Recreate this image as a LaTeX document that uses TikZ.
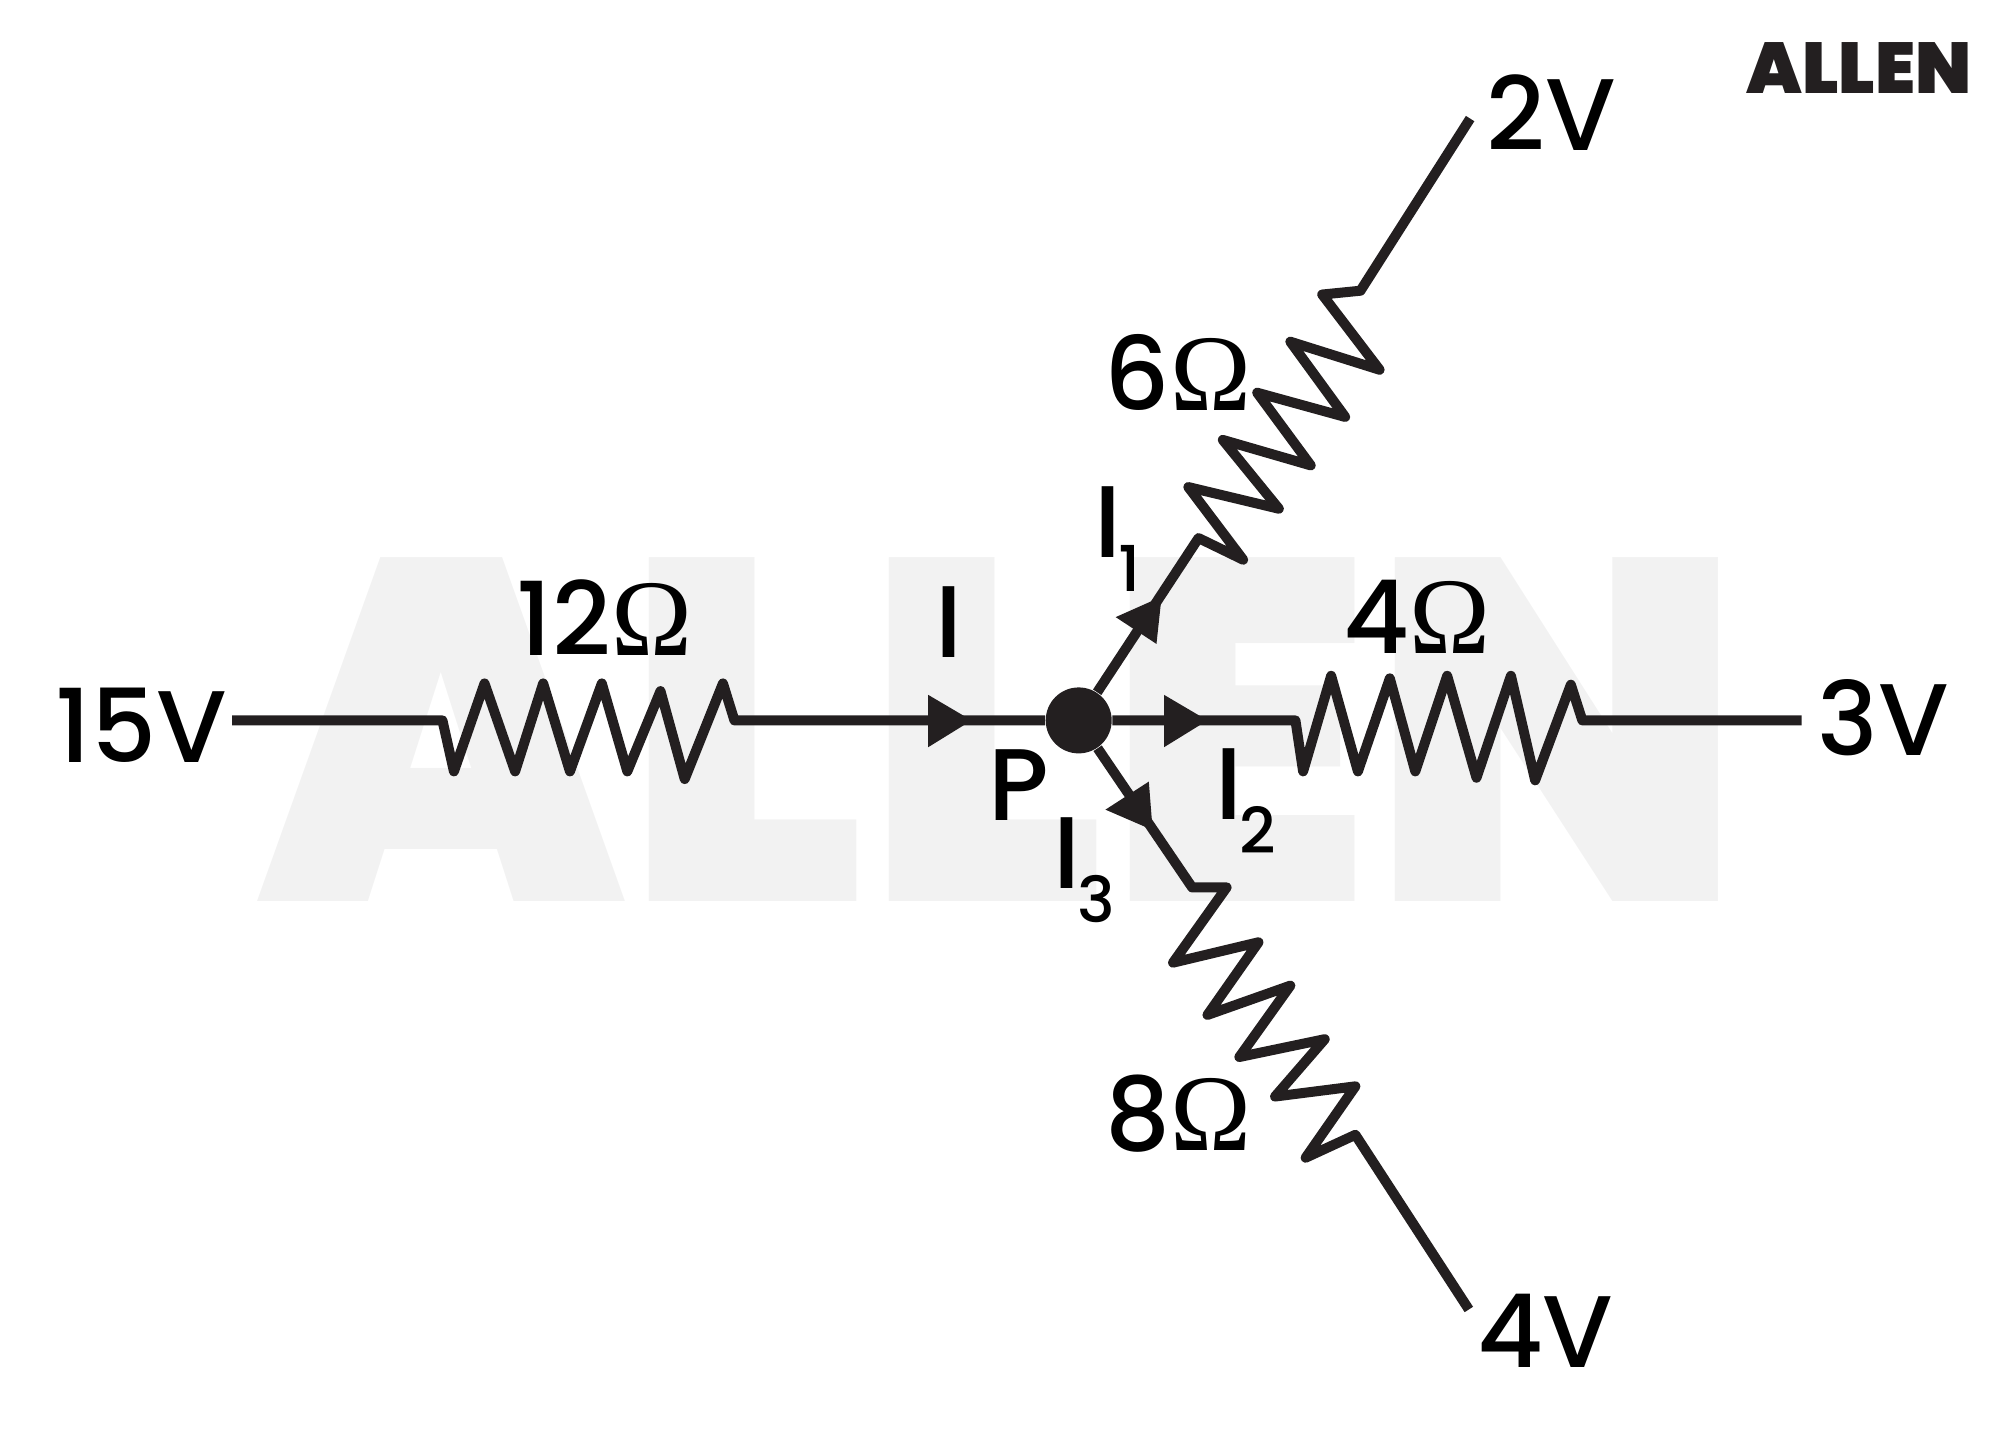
\documentclass[tikz,border=0pt]{standalone}
\usepackage{fontspec}
\setmainfont{Poppins Medium}
\newfontfamily\omegafont{Liberation Serif}
\newfontfamily\logofont{Poppins Black}
\newcommand{\ohm}{{\omegafont\fontsize{31}{31}\selectfont\symbol{"03A9}}}
\newcommand{\Isub}[1]{I\kern-0.03cm\raisebox{-0.34cm}{\fontsize{18}{18}\selectfont #1}}
\definecolor{inkblack}{HTML}{231F20}
\definecolor{markgray}{HTML}{F2F2F2}
\tikzset{
  wire/.style={draw=inkblack, line width=0.1cm, line join=round},
  tiphead/.style={fill=inkblack},
  lbl/.style={inner sep=0, text=black, font=\fontsize{29}{29}\selectfont},
}
\begin{document}
\begin{tikzpicture}[x=0.01275cm, y=-0.01275cm]
\useasboundingbox (0, 0) rectangle (1567.8, 1120);
% watermark and logo
\node (watermark) [inner sep=0, text=markgray] at (784, 572) {\resizebox{14.85cm}{3.44cm}{\logofont ALLEN}};
\node (logo) [inner sep=0, text=inkblack] at (1458, 53) {\resizebox{2.25cm}{0.51cm}{\logofont ALLEN}};
% junction
\node (P) [circle, fill=inkblack, inner sep=0, minimum size=0.66cm] at (846, 565) {};
% free ends
\coordinate (end15) at (182, 565);
\coordinate (end3) at (1413, 565);
\coordinate (end2) at (1153, 93);
\coordinate (end4) at (1152, 1027);
% resistors
\draw [wire] (end15) -- (347, 565) -- (356, 605) -- (380, 536) -- (404, 605) -- (426, 536) -- (447, 605) -- (472, 536) -- (492, 605) -- (518, 542) -- (537, 611) -- (567, 536) -- (576, 565) -- (P);
\draw [wire] (P) -- (1016, 565) -- (1022, 605) -- (1044, 530) -- (1065, 605) -- (1090, 532) -- (1110, 605) -- (1135, 530) -- (1158, 610) -- (1185, 530) -- (1204, 612) -- (1232, 537) -- (1241, 565) -- (end3);
\draw [wire] (P) -- (940, 422) -- (975, 439) -- (932, 382) -- (1003, 399) -- (959, 345) -- (1028, 365) -- (986, 308) -- (1055, 327) -- (1012, 268) -- (1082, 290) -- (1037, 231) -- (1067, 228) -- (end2);
\draw [wire] (P) -- (935, 696) -- (962, 696) -- (920, 755) -- (987, 739) -- (947, 796) -- (1012, 773) -- (972, 829) -- (1039, 815) -- (1000, 860) -- (1063, 852) -- (1024, 908) -- (1063, 890) -- (end4);
% current arrows
\fill [tiphead] (728, 545) -- (728, 586) -- (762, 565) -- cycle;
\fill [tiphead] (913, 545) -- (913, 586) -- (947, 565) -- cycle;
\fill [tiphead] (875, 484) -- (907, 505) -- (911, 468) -- cycle;
\fill [tiphead] (901, 613) -- (867, 635) -- (904, 651) -- cycle;
% labels
\node (v15) [lbl] at (111, 569) {15V};
\node (v3) [lbl] at (1477, 563) {3V};
\node (v2) [lbl] at (1217, 88) {2V};
\node (v4) [lbl] at (1212, 1044) {4V};
\node (r12) [lbl] at (474, 484) {12\ohm};
\node (r4) [lbl] at (1111, 484) {4\ohm};
\node (r6) [lbl] at (924, 292) {6\ohm};
\node (r8) [lbl] at (924, 873) {8\ohm};
\node (cur) [lbl] at (744, 488) {I};
\node (labP) [lbl] at (799, 616) {P};
\node (cur1) [lbl, anchor=base west] at (858, 437) {\Isub{1}};
\node (cur2) [lbl, anchor=base west] at (953, 643) {\Isub{2}};
\node (cur3) [lbl, anchor=base west] at (826, 697) {\Isub{3}};
\end{tikzpicture}
\end{document}
